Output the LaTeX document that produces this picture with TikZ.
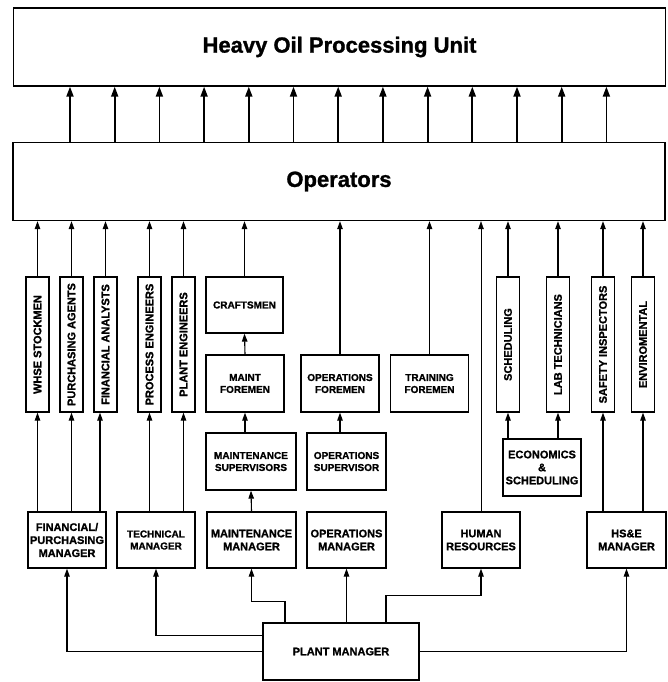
\documentclass[tikz,border=0pt]{standalone}
\usepackage{fontspec}
\setmainfont{Liberation Sans}[BoldFeatures={FakeBold=1.2}]
\usetikzlibrary{arrows.meta}

\begin{document}
\begin{tikzpicture}[
        x=1pt, y=-1pt,
        smallbox/.style={draw, line width=1.3pt, align=center, inner sep=1pt,
            minimum width=78pt, minimum height=57pt,
            font=\bfseries\fontsize{10}{12}\selectfont},
        mgrbox/.style={smallbox, font=\bfseries\fontsize{11}{13}\selectfont},
        vbar/.style={draw, line width=1.3pt, inner sep=0pt,
            minimum width=23pt, minimum height=135pt,
            font=\bfseries\fontsize{11}{13}\selectfont},
        wide/.style={draw, line width=1.3pt, minimum width=652pt, minimum height=78pt,
            font=\bfseries\fontsize{22}{26}\selectfont},
        feed/.style={-{Triangle[length=8pt,width=5.5pt]}, line width=1.1pt},
        thickfeed/.style={-{Triangle[length=10pt,width=7pt]}, line width=1.8pt},
    ]
        \useasboundingbox (0,0) rectangle (668,682);

        \node[wide] (unit) at (339.5,47) {Heavy Oil Processing Unit};
        \node[wide] (ops) at (339,181.5) {Operators};

        \node[vbar] (whse) at (37.5,344.5) {\rotatebox{90}{WHSE STOCKMEN}};
        \node[vbar] (purch) at (71.5,344.5) {\rotatebox{90}{PURCHASING AGENTS}};
        \node[vbar] (fin) at (105.5,344.5) {\rotatebox{90}{FINANCIAL ANALYSTS}};
        \node[vbar] (proc) at (149.5,344.5) {\rotatebox{90}{PROCESS ENGINEERS}};
        \node[vbar] (plant) at (183.5,344.5) {\rotatebox{90}{PLANT ENGINEERS}};
        \node[vbar] (sched) at (508,344.5) {\rotatebox{90}{SCHEDULING}};
        \node[vbar] (lab) at (558,344.5) {\rotatebox{90}{LAB TECHNICIANS}};
        \node[vbar] (safe) at (603,344.5) {\rotatebox{90}{SAFETY INSPECTORS}};
        \node[vbar] (env) at (643,344.5) {\rotatebox{90}{ENVIROMENTAL}};

        \node[smallbox, minimum width=77pt, minimum height=56pt] (craft) at (244.5,305) {CRAFTSMEN};
        \node[smallbox] (mfor) at (245,383.5) {MAINT\\FOREMEN};
        \node[smallbox] (ofor) at (340,383.5) {OPERATIONS\\FOREMEN};
        \node[smallbox] (tfor) at (429.5,383.5) {TRAINING\\FOREMEN};
        \node[smallbox, minimum width=90pt] (msup) at (251,461.5) {MAINTENANCE\\SUPERVISORS};
        \node[smallbox, minimum width=79pt] (osup) at (346.5,461.5) {OPERATIONS\\SUPERVISOR};
        \node[mgrbox] (econ) at (542,467.5) {ECONOMICS\\\&\\SCHEDULING};

        \node[mgrbox, minimum height=56pt] (fpm) at (67,540) {FINANCIAL/\\PURCHASING\\MANAGER};
        \node[smallbox, minimum height=56pt] (tm) at (156,540) {TECHNICAL\\MANAGER};
        \node[mgrbox, minimum width=89pt, minimum height=56pt] (mm) at (251.5,540) {MAINTENANCE\\MANAGER};
        \node[mgrbox, minimum width=79pt, minimum height=56pt] (om) at (346.5,540) {OPERATIONS\\MANAGER};
        \node[mgrbox, minimum height=56pt] (hr) at (481,540) {HUMAN\\RESOURCES};
        \node[mgrbox, minimum width=79pt, minimum height=56pt] (hse) at (626.5,540) {HS\&E\\MANAGER};
        \node[mgrbox, minimum width=156pt] (pm) at (341,651.5) {PLANT MANAGER};

        \foreach \i in {0,...,12} {
            \pgfmathsetmacro\ax{70+44.7*\i}
            \draw[thickfeed] (ops.north -| \ax,0) -- (unit.south -| \ax,0);
        }

        \foreach \n in {whse,purch,fin,proc,plant,craft,ofor,tfor,sched,lab,safe,env}
            \draw[feed] (\n.north) -- (ops.south -| \n.north);
        \draw[feed, line width=0.6pt] (hr.north) -- (ops.south -| hr.north);

        \draw[feed] (mfor.north) -- (craft.south);
        \draw[feed] (msup.north -| mfor.south) -- (mfor.south);
        \draw[feed] (mm.north) -- (msup.south);
        \draw[feed] (osup.north -| ofor.south) -- (ofor.south);

        \draw[feed] (fpm.north -| whse.south) -- (whse.south);
        \draw[feed] (fpm.north -| purch.south) -- (purch.south);
        \draw[feed] (fpm.north -| 100,0) -- (fin.south -| 100,0);
        \draw[feed] (tm.north -| proc.south) -- (proc.south);
        \draw[feed] (tm.north -| plant.south) -- (plant.south);
        \draw[feed] (econ.north -| sched.south) -- (sched.south);
        \draw[feed] (econ.north -| lab.south) -- (lab.south);
        \draw[feed] (hse.north -| safe.south) -- (safe.south);
        \draw[feed] (hse.north -| env.south) -- (env.south);

        \draw[feed] (pm.west) -| (fpm.south);
        \draw[feed] ([yshift=16pt]pm.west) -| (tm.south);
        \draw[feed] ([xshift=-56pt]pm.north) |- ++(0,-21) -| (mm.south);
        \draw[feed] (pm.north -| om.south) -- (om.south);
        \draw[feed] ([xshift=45pt]pm.north) |- ++(0,-27) -| (hr.south);
        \draw[feed] (pm.east) -| (hse.south);
\end{tikzpicture}
\end{document}
